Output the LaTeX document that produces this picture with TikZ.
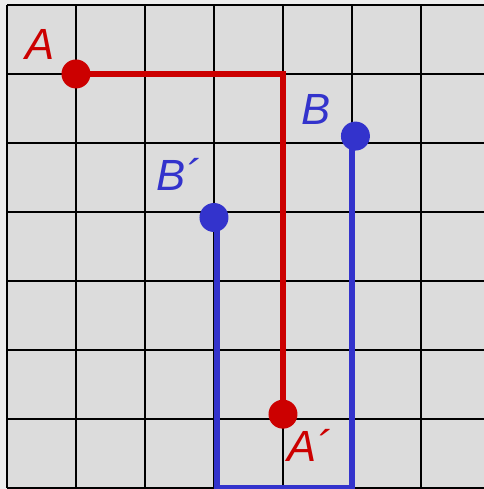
\documentclass[tikz,border=0pt]{standalone}
\usepackage{fontspec}
\setmainfont{Liberation Sans}
\usetikzlibrary{positioning,calc}
\definecolor{paper}{HTML}{EDEDED}
\definecolor{cell}{HTML}{DCDCDC}
\definecolor{redpt}{HTML}{CC0000}
\definecolor{bluept}{HTML}{3333CC}
\pgfdeclarelayer{back}
\pgfdeclarelayer{lines}
\pgfsetlayers{back,lines,main}
\tikzset{
  dot/.style={circle, inner sep=0pt, minimum size=0.42cm},
  lab/.style={font=\fontsize{18pt}{20pt}\selectfont\itshape, inner sep=0pt},
  path/.style={line width=2.6pt},
}

\begin{document}
\begin{tikzpicture}
    \useasboundingbox (-0.101,-0.0145) rectangle (6.913,7.072);
    \begin{pgfonlayer}{back}
      \fill[paper] (-0.101,-0.0145) rectangle (6.913,7.072);
      \clip (-0.101,-0.0145) rectangle (6.913,7.072);
      \fill[cell] (0,0) rectangle (7,7);
      \draw[line width=0.9pt] (0,0) grid (7,7);
    \end{pgfonlayer}
    % Punkte
    \node[dot, fill=redpt] (A) at (1,6) {};
    \node[dot, fill=redpt] (A') at (4,1.07) {};
    \node[dot, fill=bluept] (B) at (5.05,5.1) {};
    \node[dot, fill=bluept] (B') at (3.0,3.92) {};
    \coordinate (bl) at (3.04,0);
    \coordinate (br) at (5.0,0);
    % Wege
    \begin{pgfonlayer}{lines}
      \draw[path, redpt] (A.center) -| (A'.center);
      \draw[path, bluept] (bl |- B'.center) -- (bl) -- (br) -- (br |- B.center);
    \end{pgfonlayer}
    % Beschriftungen
    \node[lab, text=redpt] (labA) at (0.48,6.43) {A};
    \node[lab, text=redpt] (labA') at (4.38,0.61) {A´};
    \node[lab, text=bluept] (labB) at (4.48,5.49) {B};
    \node[lab, text=bluept] (labB') at (2.48,4.55) {B´};
\end{tikzpicture}
\end{document}
